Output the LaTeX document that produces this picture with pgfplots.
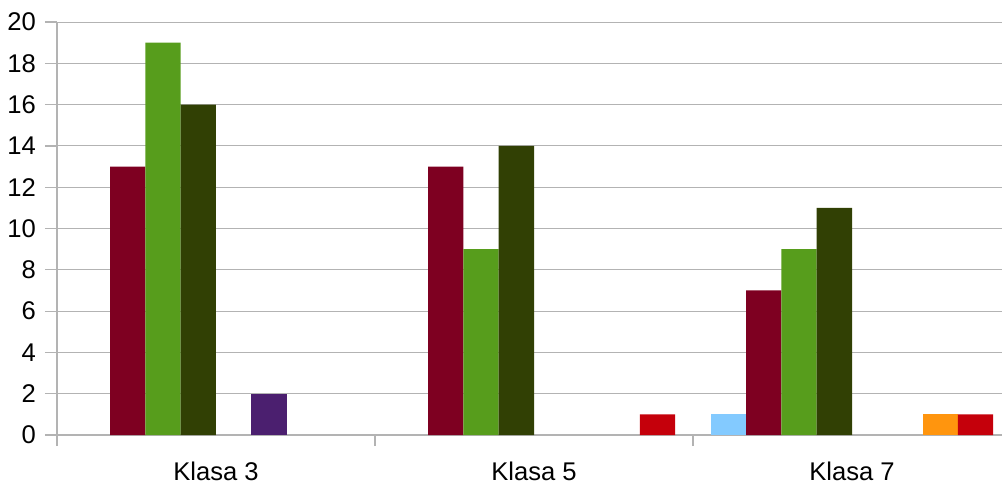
\documentclass[border=0pt]{standalone}
\usepackage{pgfplots}
\pgfplotsset{compat=1.18}
\usepackage{fontspec}
\setmainfont{Liberation Sans}
\definecolor{c1}{HTML}{83CAFF}
\definecolor{c2}{HTML}{7E0021}
\definecolor{c3}{HTML}{579D1C}
\definecolor{c4}{HTML}{314004}
\definecolor{c5}{HTML}{AECF00}
\definecolor{c6}{HTML}{4B1F6F}
\definecolor{c7}{HTML}{FF950E}
\definecolor{c8}{HTML}{C5000B}
\definecolor{gridc}{HTML}{B3B3B3}
\begin{document}
\begin{tikzpicture}
\path[use as bounding box] (-28.5pt,-24pt) rectangle (472.5pt,217.5pt);
\begin{axis}[
  at={(0,0)}, anchor=south west,
  scale only axis, width=472.5pt, height=206.5pt,
  xmin=-0.5, xmax=2.4717, ymin=0, ymax=20,
  ytick={0,2,...,20},
  xtick={0,1,2}, xticklabels={Klasa 3,Klasa 5,Klasa 7},
  minor xtick={-0.5,0.5,1.5},
  major x tick style={draw=none},
  minor x tick style={draw=gridc, line width=0.6pt},
  y tick style={draw=gridc, line width=0.6pt},
  tick align=outside,
  major tick length=6pt, minor tick length=5.5pt,
  axis x line*=bottom, axis y line*=left,
  axis line style={draw=gridc, line width=0.6pt, -},
  ymajorgrids, grid style={draw=gridc, line width=0.5pt},
  ticklabel style={font=\fontsize{12.8}{15}\selectfont, text=black},
  /pgf/number format/assume math mode=true,
  xticklabel style={yshift=-4pt},
  yticklabel style={xshift=-1pt},
  ybar, bar width=0.111,
  every axis plot/.append style={draw=none},
]
\addplot[fill=c1, bar shift=-0.3885] coordinates {(2,1)};
\addplot[fill=c2, bar shift=-0.2775] coordinates {(0,13) (1,13) (2,7)};
\addplot[fill=c3, bar shift=-0.1665] coordinates {(0,19) (1,9) (2,9)};
\addplot[fill=c4, bar shift=-0.0555] coordinates {(0,16) (1,14) (2,11)};
\addplot[fill=c6, bar shift=0.1665] coordinates {(0,2)};
\addplot[fill=c7, bar shift=0.2775] coordinates {(2,1)};
\addplot[fill=c8, bar shift=0.3885] coordinates {(1,1) (2,1)};
\end{axis}
\end{tikzpicture}
\end{document}
